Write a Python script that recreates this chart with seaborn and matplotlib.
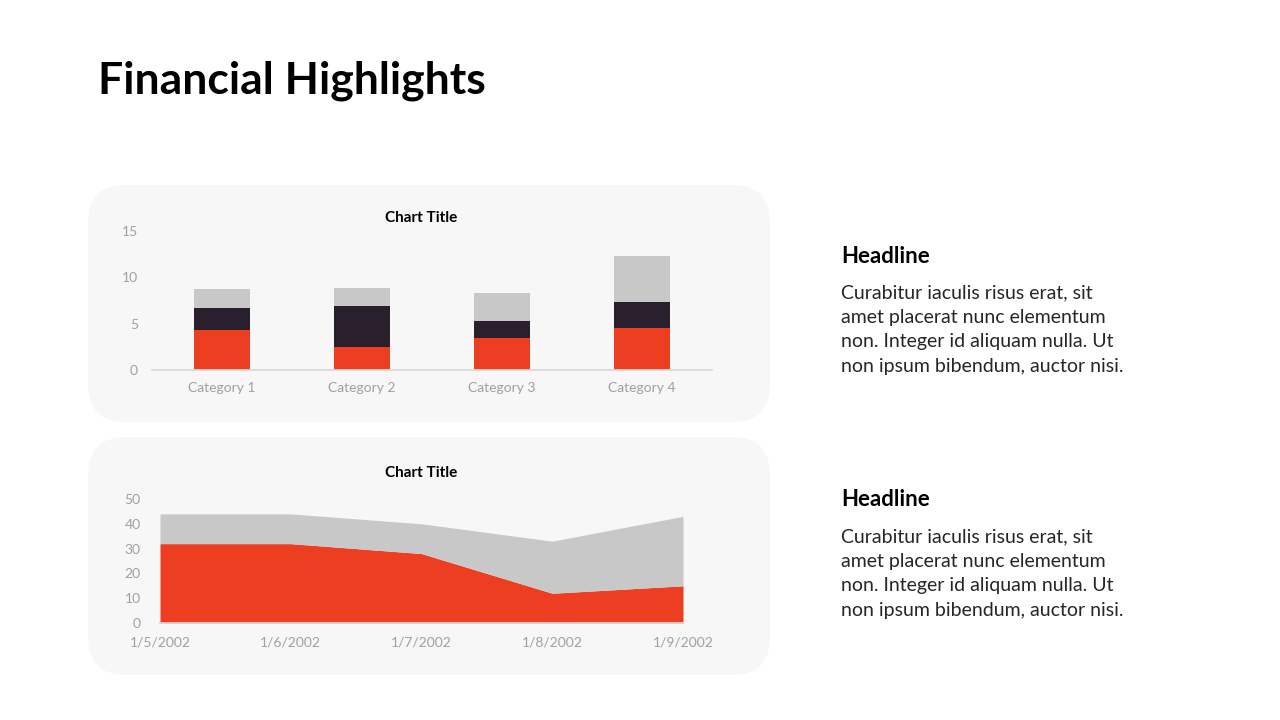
import numpy as np
import pandas as pd
import seaborn as sns
import matplotlib.pyplot as plt
from matplotlib.patches import FancyBboxPatch

# bar chart data
categories = ["Category 1", "Category 2", "Category 3", "Category 4"]
series1 = [4.3, 2.5, 3.5, 4.5]
series2 = [2.4, 4.4, 1.8, 2.8]
series3 = [2.0, 2.0, 3.0, 5.0]

# area chart data
dates = ["1/5/2002", "1/6/2002", "1/7/2002", "1/8/2002", "1/9/2002"]
area1 = [32, 32, 28, 12, 15]
area2 = [12, 12, 12, 21, 28]

headline = "Headline"
body = "Curabitur iaculis risus erat, sit\namet placerat nunc elementum\nnon. Integer id aliquam nulla. Ut\nnon ipsum bibendum, auctor nisi."

RED = "#EE3E22"
DARK = "#2A1F2D"
GRAY = "#C8C8C8"
TICK = "#A0A0A0"

sns.set_theme(style="white")
plt.rcParams["font.family"] = ["Lato", "DejaVu Sans"]

W, H = 1280, 720
fig = plt.figure(figsize=(12.8, 7.2), dpi=100)


def rect(x0, y0, x1, y1):
    # pixel box (top-left origin) -> figure fraction
    return [x0 / W, 1 - y1 / H, (x1 - x0) / W, (y1 - y0) / H]


# background panels
bg = fig.add_axes([0, 0, 1, 1], zorder=0)
bg.set_xlim(0, W)
bg.set_ylim(H, 0)
bg.axis("off")
for top, bottom in [(185, 422), (437, 675)]:
    bg.add_patch(FancyBboxPatch((88, top), 682, bottom - top,
                                boxstyle="round,pad=0,rounding_size=38",
                                facecolor="#F7F7F7", edgecolor="none"))

fig.text(98 / W, 1 - 81 / H, "Financial Highlights", fontsize=32, fontweight="bold",
         color="black", va="center", ha="left")

# stacked bars
ax1 = fig.add_axes(rect(152, 231, 712, 370), zorder=1)
ax1.patch.set_alpha(0)
df = pd.DataFrame({"cat": categories,
                   "s1": series1,
                   "s12": np.add(series1, series2),
                   "s123": np.add(np.add(series1, series2), series3)})
for col, color in [("s123", GRAY), ("s12", DARK), ("s1", RED)]:
    sns.barplot(data=df, x="cat", y=col, color=color, width=0.4, saturation=1,
                ax=ax1, linewidth=0)
ax1.set_xlim(-0.5, 3.5)
ax1.set_ylim(0, 15)
ax1.set_yticks([0, 5, 10, 15])
ax1.set_xlabel("")
ax1.set_ylabel("")
for s in ["top", "right", "left"]:
    ax1.spines[s].set_visible(False)
ax1.spines["bottom"].set_color("#D9D9D9")
ax1.tick_params(axis="both", colors=TICK, labelsize=10, length=0, pad=10)
ax1.tick_params(axis="x", pad=9)
fig.text(421 / W, 1 - 218 / H, "Chart Title", fontsize=11, fontweight="bold",
         ha="center", va="center", color="black")

# stacked area
ax2 = fig.add_axes(rect(160, 499, 683, 623), zorder=1)
ax2.patch.set_alpha(0)
x = np.arange(len(dates))
ax2.stackplot(x, area1, area2, colors=[RED, GRAY], linewidth=0)
ax2.set_xlim(0, len(dates) - 1)
ax2.set_ylim(0, 50)
ax2.set_xticks(x)
ax2.set_xticklabels(dates)
ax2.set_yticks([0, 10, 20, 30, 40, 50])
for s in ["top", "right", "left"]:
    ax2.spines[s].set_visible(False)
ax2.spines["bottom"].set_color("#D9D9D9")
ax2.tick_params(axis="y", colors=TICK, labelsize=10, length=0, pad=14)
ax2.tick_params(axis="x", colors="#D9D9D9", labelcolor=TICK, labelsize=10,
                length=4, pad=6)
fig.text(421 / W, 1 - 473 / H, "Chart Title", fontsize=11, fontweight="bold",
         ha="center", va="center", color="black")

# side texts
for y_head, y_body in [(256, 284), (500, 528)]:
    fig.text(841 / W, 1 - y_head / H, headline, fontsize=16, fontweight="bold",
             ha="left", va="center", color="black")
    fig.text(841 / W, 1 - y_body / H, body, fontsize=14, ha="left", va="top",
             color="#262626", linespacing=1.55)

fig.savefig("out.png", dpi=100)
